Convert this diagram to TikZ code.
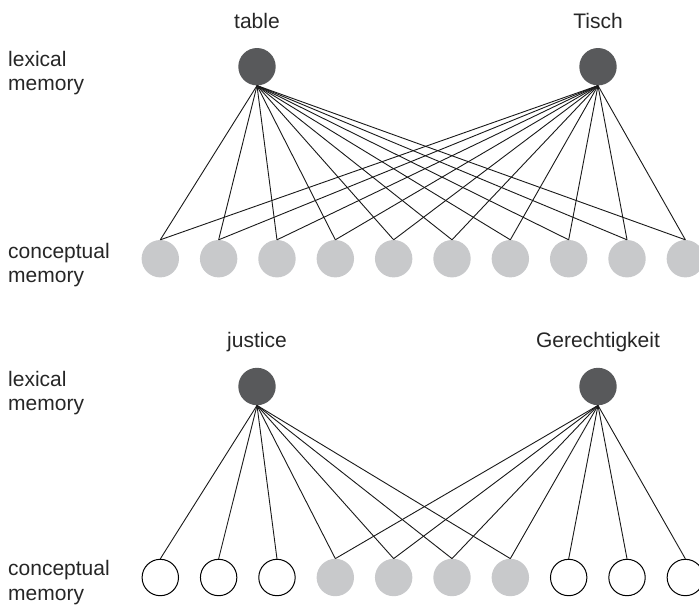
\documentclass[tikz,border=0pt]{standalone}
\usepackage{fontspec}
\setmainfont{Liberation Sans}
\definecolor{darknode}{HTML}{58595B}
\definecolor{lightnode}{HTML}{C8C9CB}
\begin{document}
\begin{tikzpicture}[x=1pt,y=-1pt,
  lex/.style={circle,fill=darknode,minimum size=37.4pt,inner sep=0pt},
  con/.style={circle,fill=lightnode,minimum size=37.4pt,inner sep=0pt},
  conw/.style={circle,draw=black,line width=1pt,fill=white,minimum size=36.4pt,inner sep=0pt},
  lbl/.style={font=\fontsize{21}{24.5}\selectfont,text=black!85,inner sep=0pt},
  side/.style={lbl,align=left,anchor=base west},
  link/.style={draw=black!90,line width=0.9pt}]
\useasboundingbox (0,0) rectangle (699,606);
% ---------- top panel ----------
\node[lex] (table) at (257,66.7) {};
\node[lex] (tisch) at (598,66.7) {};
\node[lbl,anchor=base] (tableL) at (257,28) {table};
\node[lbl,anchor=base] (tischL) at (598,28) {Tisch};
\node[side] (lexA) at (8,90.5) {lexical\\memory};
\node[side] (conA) at (8,282.5) {conceptual\\memory};
\foreach \i in {1,...,10} {
  \node[con] (a\i) at ({160.3+(\i-1)*58.34},258.7) {};
}
\foreach \i in {1,...,10} {
  \draw[link] (table.south) -- (a\i.north);
  \draw[link] (tisch.south) -- (a\i.north);
}
% ---------- bottom panel ----------
\node[lex] (just) at (257,386.5) {};
\node[lex] (gere) at (598,386.5) {};
\node[lbl,anchor=base] (justL) at (257,347) {justice};
\node[lbl,anchor=base] (gereL) at (598,347) {Gerechtigkeit};
\node[side] (lexB) at (8,410.5) {lexical\\memory};
\node[side] (conB) at (8,600) {conceptual\\memory};
\foreach \i in {1,2,3,8,9,10} {
  \node[conw] (b\i) at ({160.3+(\i-1)*58.34},577.5) {};
}
\foreach \i in {4,...,7} {
  \node[con] (b\i) at ({160.3+(\i-1)*58.34},577.5) {};
}
\foreach \i in {1,...,7} {
  \draw[link] (just.south) -- (b\i.north);
}
\foreach \i in {4,...,10} {
  \draw[link] (gere.south) -- (b\i.north);
}
\end{tikzpicture}
\end{document}
